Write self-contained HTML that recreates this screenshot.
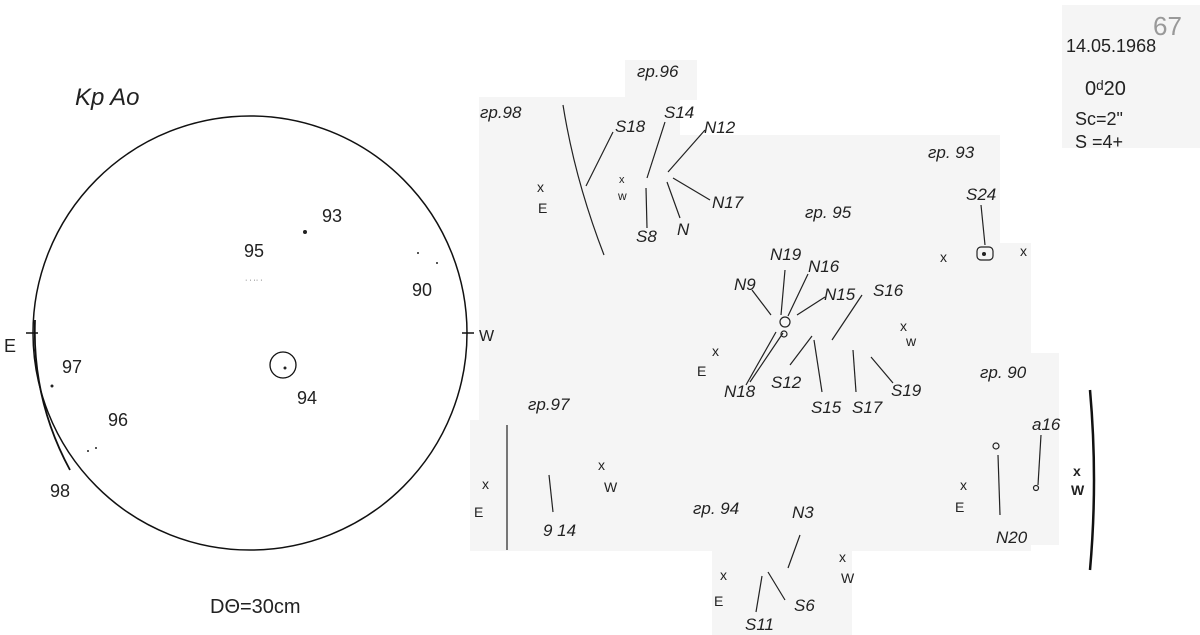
<!DOCTYPE html>
<html><head><meta charset="utf-8"><style>
html,body{margin:0;padding:0;background:#fff;}
svg{display:block}
text{font-family:"Liberation Sans",sans-serif;fill:#222;}
</style></head><body>
<svg width="1200" height="635" viewBox="0 0 1200 635" xmlns="http://www.w3.org/2000/svg">
<g fill="#f5f5f5">
<rect x="625" y="60" width="72" height="40"/>
<rect x="479" y="97" width="200" height="330"/>
<rect x="560" y="97" width="120" height="60"/>
<rect x="668" y="135" width="332" height="290"/>
<rect x="1000" y="243" width="31" height="115"/>
<rect x="470" y="420" width="561" height="131"/>
<rect x="974" y="353" width="85" height="192"/>
<rect x="712" y="544" width="140" height="91"/>
<rect x="1062" y="5" width="138" height="143"/>
</g>
<!-- disk -->
<circle cx="250" cy="333" r="217" fill="none" stroke="#111" stroke-width="1.5"/>
<line x1="26" y1="333" x2="38" y2="333" stroke="#111" stroke-width="1.5"/>
<line x1="462" y1="333" x2="474" y2="333" stroke="#111" stroke-width="1.5"/>
<path d="M35 320 Q32 400 70 470" fill="none" stroke="#111" stroke-width="1.8"/>
<circle cx="283" cy="365" r="13" fill="none" stroke="#111" stroke-width="1.3"/>
<circle cx="285" cy="368" r="1.5" fill="#222"/>
<circle cx="305" cy="232" r="2" fill="#222"/>
<circle cx="52" cy="386" r="1.5" fill="#222"/>
<circle cx="418" cy="253" r="1" fill="#222"/><circle cx="437" cy="263" r="1" fill="#222"/>
<circle cx="88" cy="451" r="1" fill="#222"/><circle cx="96" cy="448" r="1" fill="#222"/>
<text x="245" y="282" font-size="7">· · ·· ·</text>
<text x="75" y="105" font-size="24" font-style="italic">Kp Ao</text>
<text x="322" y="222" font-size="18">93</text>
<text x="244" y="257" font-size="18">95</text>
<text x="412" y="296" font-size="18">90</text>
<text x="4" y="352" font-size="18">E</text>
<text x="479" y="341" font-size="16">W</text>
<text x="62" y="373" font-size="18">97</text>
<text x="108" y="426" font-size="18">96</text>
<text x="50" y="497" font-size="18">98</text>
<text x="297" y="404" font-size="18">94</text>
<text x="210" y="613" font-size="20">DΘ=30cm</text>
<!-- header -->
<text x="1066" y="52" font-size="18">14.05.1968</text>
<text x="1153" y="35" font-size="26" style="fill:#999">67</text>
<text x="1085" y="95" font-size="20">0ᵈ20</text>
<text x="1075" y="125" font-size="18">Sc=2"</text>
<text x="1075" y="148" font-size="18">S =4+</text>
<g stroke="#222" stroke-width="1.2" fill="none">
<path d="M563 105 Q575 180 604 255"/>
<line x1="586" y1="186" x2="613" y2="132"/>
<line x1="647" y1="178" x2="665" y2="122"/>
<line x1="668" y1="172" x2="705" y2="130"/>
<line x1="646" y1="188" x2="647" y2="228"/>
<line x1="667" y1="182" x2="680" y2="218"/>
<line x1="673" y1="178" x2="710" y2="200"/>
<line x1="771" y1="315" x2="752" y2="290"/>
<line x1="781" y1="315" x2="785" y2="270"/>
<line x1="788" y1="316" x2="808" y2="274"/>
<line x1="797" y1="315" x2="825" y2="297"/>
<line x1="832" y1="340" x2="862" y2="295"/>
<line x1="776" y1="332" x2="746" y2="385"/>
<line x1="783" y1="333" x2="750" y2="382"/>
<line x1="812" y1="336" x2="790" y2="365"/>
<line x1="814" y1="340" x2="822" y2="392"/>
<line x1="853" y1="350" x2="856" y2="392"/>
<line x1="871" y1="357" x2="893" y2="383"/>
<circle cx="785" cy="322" r="5"/>
<circle cx="784" cy="334" r="3"/>
<line x1="981" y1="205" x2="985" y2="245"/>
<rect x="977" y="247" width="16" height="13" rx="4"/>
<line x1="507" y1="425" x2="507" y2="550"/>
<line x1="549" y1="475" x2="553" y2="512"/>
<line x1="788" y1="568" x2="800" y2="535"/>
<line x1="762" y1="576" x2="756" y2="612"/>
<line x1="768" y1="572" x2="785" y2="600"/>
<line x1="998" y1="455" x2="1000" y2="515"/>
<line x1="1041" y1="435" x2="1038" y2="485"/>
<circle cx="996" cy="446" r="3"/>
<circle cx="1036" cy="488" r="2.5"/>
</g>
<path d="M1090 390 Q1098 480 1090 570" fill="none" stroke="#111" stroke-width="2.5"/>
<circle cx="984" cy="254" r="2" fill="#222"/>
<g font-size="17" font-style="italic">
<text x="480" y="118">гр.98</text>
<text x="637" y="77">гр.96</text>
<text x="615" y="132">S18</text>
<text x="664" y="118">S14</text>
<text x="704" y="133">N12</text>
<text x="712" y="208">N17</text>
<text x="636" y="242">S8</text>
<text x="677" y="235">N</text>
<text x="805" y="218">гр. 95</text>
<text x="928" y="158">гр. 93</text>
<text x="966" y="200">S24</text>
<text x="770" y="260">N19</text>
<text x="808" y="272">N16</text>
<text x="734" y="290">N9</text>
<text x="824" y="300">N15</text>
<text x="873" y="296">S16</text>
<text x="724" y="397">N18</text>
<text x="771" y="388">S12</text>
<text x="811" y="413">S15</text>
<text x="852" y="413">S17</text>
<text x="891" y="396">S19</text>
<text x="980" y="378">гр. 90</text>
<text x="1032" y="430">a16</text>
<text x="996" y="543">N20</text>
<text x="528" y="410">гр.97</text>
<text x="543" y="536">9 14</text>
<text x="693" y="514">гр. 94</text>
<text x="792" y="518">N3</text>
<text x="794" y="611">S6</text>
<text x="745" y="630">S11</text>
</g>
<g font-size="14">
<text x="537" y="192">x</text><text x="538" y="213">E</text>
<text x="619" y="183" font-size="11">x</text><text x="618" y="200" font-size="12">w</text>
<text x="712" y="356">x</text><text x="697" y="376">E</text>
<text x="900" y="331">x</text><text x="906" y="346">w</text>
<text x="940" y="262">x</text><text x="1020" y="256">x</text>
<text x="482" y="489">x</text><text x="474" y="517">E</text>
<text x="598" y="470">x</text><text x="604" y="492">W</text>
<text x="720" y="580">x</text><text x="714" y="606">E</text>
<text x="839" y="562">x</text><text x="841" y="583">W</text>
<text x="960" y="490">x</text><text x="955" y="512">E</text>
<text x="1073" y="476" font-weight="bold">x</text><text x="1071" y="495" font-weight="bold">W</text>
</g>
</svg>
</body></html>
